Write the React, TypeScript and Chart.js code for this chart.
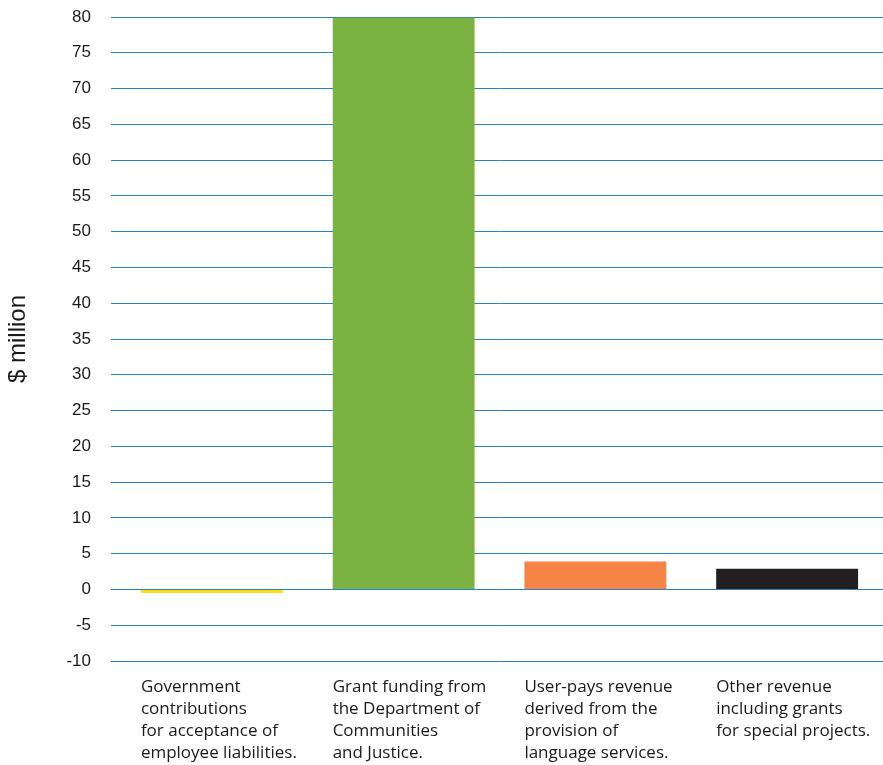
import React, { useEffect, useRef } from "react";
import { Chart, registerables } from "chart.js";

Chart.register(...registerables);

const categories: string[][] = [
  ["Government", "contributions", "for acceptance of", "employee liabilities."],
  ["Grant funding from", "the Department of", "Communities", "and Justice."],
  ["User-pays revenue", "derived from the", "provision of", "language services."],
  ["Other revenue", "including grants", "for special projects."],
];
const values: number[] = [-0.5, 79.9, 3.9, 2.9];
const barColors: string[] = ["#FFDD1A", "#7BB342", "#F58446", "#231F20"];
const yMin = -10;
const yMax = 80;
const yStep = 5;
const yTitle = "$ million";

export default function App() {
  const ref = useRef<HTMLCanvasElement | null>(null);
  useEffect(() => {
    if (!ref.current) return;
    const chart = new Chart(ref.current, {
      type: "bar",
      data: {
        labels: categories,
        datasets: [
          {
            data: values,
            backgroundColor: barColors,
            borderWidth: 0,
            barPercentage: 0.74,
            categoryPercentage: 1,
          },
        ],
      },
      options: {
        responsive: false,
        animation: false,
        layout: { padding: { top: 17, right: 0, bottom: 0, left: 0 } },
        plugins: { legend: { display: false }, tooltip: { enabled: false } },
        scales: {
          x: {
            grid: { display: false, drawTicks: false },
            border: { display: false },
            ticks: {
              align: "start",
              labelOffset: -71,
              padding: 15,
              color: "#1a1a1a",
              font: { family: "'Open Sans', 'Liberation Sans', sans-serif", size: 17, lineHeight: "22px" },
              autoSkip: false,
              maxRotation: 0,
              minRotation: 0,
            },
            afterFit: (s: any) => {
              s.height = 104;
              s.paddingLeft = 0;
              s.paddingRight = 0;
            },
          },
          y: {
            min: yMin,
            max: yMax,
            border: { display: false },
            grid: { color: "#2C80BC", lineWidth: 1, tickLength: 5, drawTicks: true },
            ticks: {
              stepSize: yStep,
              padding: 20,
              color: "#1a1a1a",
              font: { family: "'Liberation Sans', Arial, sans-serif", size: 17 },
            },
            title: {
              display: true,
              text: yTitle,
              color: "#1a1a1a",
              padding: { top: 4, bottom: 0 },
              font: { family: "'Liberation Sans', Arial, sans-serif", size: 24 },
            },
            afterFit: (s: any) => {
              s.width = 116;
              s.paddingTop = 0;
              s.paddingBottom = 0;
            },
          },
        },
      },
    });
    return () => chart.destroy();
  }, []);
  return (
    <div style={{ position: "absolute", left: 0, top: 0, width: 883, height: 765, background: "#fff" }}>
      <canvas ref={ref} width={883} height={765} />
    </div>
  );
}
